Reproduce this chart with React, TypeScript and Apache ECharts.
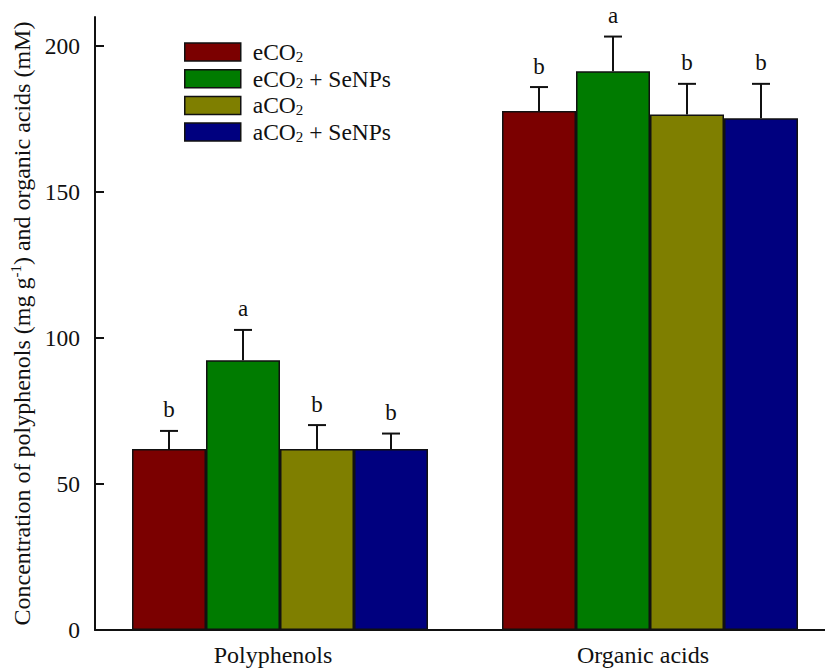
import React, { useEffect, useRef } from "react";
import * as echarts from "echarts";

const categories = ["Polyphenols", "Organic acids"];
const seriesNames = ["eCO2", "eCO2 + SeNPs", "aCO2", "aCO2 + SeNPs"];
const seriesColors = ["#7b0000", "#007b00", "#7f7f00", "#00007f"];

const eCO2 = [62, 177.8];
const eCO2SeNPs = [92.4, 191.4];
const aCO2 = [62, 176.6];
const aCO2SeNPs = [62, 175.3];

const eCO2Err = [6.2, 8.2];
const eCO2SeNPsErr = [10.4, 11.9];
const aCO2Err = [8.2, 10.5];
const aCO2SeNPsErr = [5.3, 11.8];

const eCO2Letters = ["b", "b"];
const eCO2SeNPsLetters = ["a", "a"];
const aCO2Letters = ["b", "b"];
const aCO2SeNPsLetters = ["b", "b"];

const yTicks = [0, 50, 100, 150, 200];

const FONT = "Liberation Serif";

export default function App() {
  const ref = useRef<HTMLDivElement>(null);
  useEffect(() => {
    if (!ref.current) return;
    const chart = echarts.init(ref.current, null, { renderer: "svg" });
    const values = [eCO2, eCO2SeNPs, aCO2, aCO2SeNPs];
    const errs = [eCO2Err, eCO2SeNPsErr, aCO2Err, aCO2SeNPsErr];
    const letters = [eCO2Letters, eCO2SeNPsLetters, aCO2Letters, aCO2SeNPsLetters];

    const errData: number[][] = [];
    const errLetters: string[] = [];
    values.forEach((vals, s) => {
      vals.forEach((v, c) => {
        errData.push([c, v, v + errs[s][c], s]);
        errLetters.push(letters[s][c]);
      });
    });

    const rich = {
      n: { fontFamily: FONT, fontSize: 23.5, lineHeight: 24, color: "#111" },
      s: { fontFamily: FONT, fontSize: 15, lineHeight: 13, verticalAlign: "bottom", color: "#111" },
    };

    const option: any = {
      animation: false,
      backgroundColor: "#fff",
      textStyle: { fontFamily: FONT },
      grid: { left: 95, right: 25, top: 17, bottom: 38 },
      legend: {
        orient: "vertical",
        left: 184,
        top: 40,
        padding: 0,
        itemWidth: 56,
        itemHeight: 18,
        itemGap: 2.7,
        icon: "rect",
        itemStyle: { borderColor: "#111", borderWidth: 1.5 },
        formatter: (name: string) => {
          const parts = name.split("CO2");
          return "{n|" + parts[0] + "CO}{s|2}" + (parts[1] ? "{n|" + parts[1] + "}" : "");
        },
        textStyle: { fontFamily: FONT, fontSize: 23.5, rich, padding: [0, 0, 0, 7] },
        data: seriesNames,
      },
      xAxis: {
        type: "category",
        data: categories,
        axisLine: { show: true, lineStyle: { color: "#111", width: 2 } },
        axisTick: { show: false },
        axisLabel: {
          fontFamily: FONT,
          fontSize: 24,
          color: "#111",
          margin: 13,
          padding: [0, 14, 0, 0],
        },
      },
      yAxis: {
        type: "value",
        min: 0,
        max: 210,
        interval: 50,
        splitLine: { show: false },
        axisLine: { show: true, lineStyle: { color: "#111", width: 2 } },
        axisTick: {
          show: true,
          inside: true,
          length: 9,
          lineStyle: { color: "#111", width: 2 },
          customValues: yTicks,
        },
        axisLabel: {
          fontFamily: FONT,
          fontSize: 23.5,
          color: "#111",
          margin: 15,
          customValues: yTicks,
        },
        name: "{n|Concentration of polyphenols (mg g}{p|-1}{n|) and organic acids (mM)}",
        nameLocation: "middle",
        nameGap: 58,
        nameTextStyle: {
          fontFamily: FONT,
          fontSize: 24,
          rich: {
            n: { fontFamily: FONT, fontSize: 24, lineHeight: 26, color: "#111" },
            p: { fontFamily: FONT, fontSize: 15, lineHeight: 14, verticalAlign: "top", color: "#111" },
          },
        },
      },
      series: [
        ...seriesNames.map((name, i) => ({
          name,
          type: "bar",
          data: values[i],
          barGap: "0%",
          barCategoryGap: "20%",
          itemStyle: { color: seriesColors[i], borderColor: "#111", borderWidth: 1.5 },
        })),
        {
          type: "custom",
          data: errData,
          encode: { x: 0, y: [1, 2] },
          z: 5,
          renderItem: (params: any, api: any) => {
            const c = api.value(0);
            const v = api.value(1);
            const t = api.value(2);
            const s = api.value(3);
            const bw = api.size([1, 0])[0];
            const p = api.coord([c, v]);
            const pt = api.coord([c, t]);
            const x = p[0] + (s - 1.5) * bw * 0.2;
            const style = { stroke: "#111", lineWidth: 2 };
            return {
              type: "group",
              children: [
                { type: "line", shape: { x1: x, y1: p[1], x2: x, y2: pt[1] }, style },
                { type: "line", shape: { x1: x - 9, y1: pt[1], x2: x + 9, y2: pt[1] }, style },
                {
                  type: "text",
                  style: {
                    text: errLetters[params.dataIndex],
                    x,
                    y: pt[1] - 21,
                    textAlign: "center",
                    textVerticalAlign: "middle",
                    fontFamily: FONT,
                    fontSize: 23,
                    fill: "#111",
                  },
                },
              ],
            };
          },
        },
      ],
    };
    chart.setOption(option);
    return () => chart.dispose();
  }, []);

  return (
    <div style={{ position: "fixed", left: 0, top: 0, width: 825, height: 668, overflow: "hidden", background: "#fff" }}>
      <div ref={ref} style={{ width: 860, height: 668 }} />
    </div>
  );
}
